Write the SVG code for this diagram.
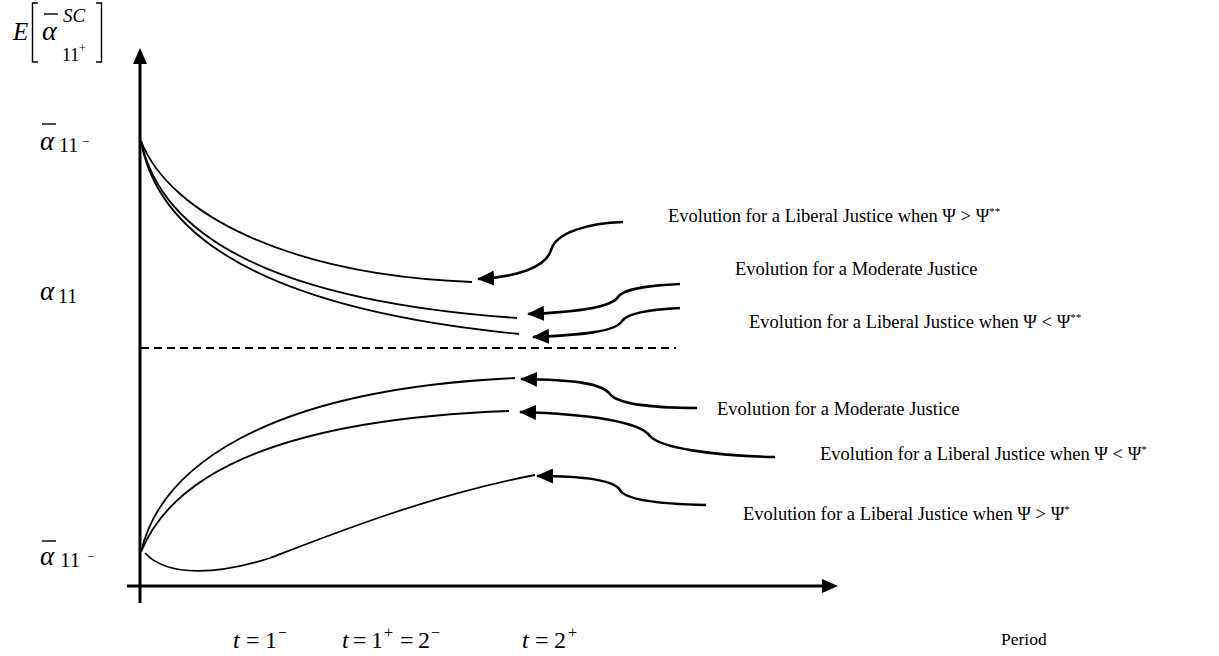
<svg xmlns="http://www.w3.org/2000/svg" width="1219" height="656" viewBox="0 0 1219 656">
<style>
.ax{stroke:#000;stroke-width:3;fill:none}
.cv{stroke:#000;stroke-width:1.8;fill:none}
.ar{stroke:#000;stroke-width:2.6;fill:none;marker-end:url(#ah)}
.lbl{font-family:"Liberation Serif","Times New Roman",serif;font-size:18.5px;fill:#000}
.eq{font-family:"Liberation Serif","Times New Roman",serif;font-size:24px;fill:#000}
.it{font-style:italic}
.bar{stroke:#000;stroke-width:1.4}
</style>
<defs>
<marker id="ah" markerUnits="userSpaceOnUse" markerWidth="17" markerHeight="15" viewBox="0 0 17 15" refX="16" refY="7.5" orient="auto">
<path d="M0,0 L17,7.5 L0,15 Z" fill="#000"/>
</marker>
</defs>
<rect width="1219" height="656" fill="#fff"/>

<g id="axes">
<line class="ax" x1="140" y1="603" x2="140" y2="62"/>
<polygon points="140,48 133,64 147,64" fill="#000"/>
<line class="ax" x1="127" y1="586" x2="824" y2="586"/>
<polygon points="838,586 822,579 822,593" fill="#000"/>
<line x1="141" y1="348" x2="676" y2="348" stroke="#000" stroke-width="2" stroke-dasharray="8,5"/>
</g>

<g id="y-axis-title">
<text class="eq it" x="13" y="40" style="font-size:25px">E</text>
<path class="bar" d="M38,3 L32.5,3 L32.5,62 L38,62" fill="none"/>
<path class="bar" d="M96,3 L101.5,3 L101.5,62 L96,62" fill="none"/>
<line class="bar" x1="44" y1="14" x2="58" y2="14"/>
<text class="eq it" x="42" y="40" style="font-size:28px">α</text>
<text class="eq it" x="63" y="22" style="font-size:19px">SC</text>
<text class="eq" x="62" y="61" style="font-size:18px">11</text>
<text class="eq" x="79" y="52" style="font-size:12px">+</text>
</g>

<g id="y-label-top">
<line class="bar" x1="42" y1="124" x2="56" y2="124"/>
<text class="eq it" x="40" y="150" style="font-size:27px">α</text>
<text class="eq" x="59" y="152" style="font-size:20px">11</text>
<text class="eq" x="82" y="146" style="font-size:13px">−</text>
</g>
<g id="y-label-mid">
<text class="eq it" x="40" y="300" style="font-size:27px">α</text>
<text class="eq" x="58" y="303" style="font-size:20px">11</text>
</g>
<g id="y-label-bottom">
<line class="bar" x1="42" y1="541" x2="56" y2="541"/>
<text class="eq it" x="40" y="565" style="font-size:27px">α</text>
<text class="eq" x="60" y="567" style="font-size:21px">11</text>
<text class="eq" x="87" y="561" style="font-size:13px">−</text>
</g>

<g id="curves">
<path id="c1" class="cv" d="M141,141 C170,215 290,275 472,282"/>
<path id="c2" class="cv" d="M141,141 C160,230 260,300 517,318"/>
<path id="c3" class="cv" d="M141,141 C157,232 255,308 519,334"/>
<path id="c4" class="cv" d="M141,552 C160,470 260,390 515,378"/>
<path id="c5" class="cv" d="M141,552 C170,480 265,420 509,411"/>
<path id="c6" class="cv" d="M145,553 C168,578 220,574 270,558 C330,535 430,495 535,475"/>
</g>

<g id="connectors">
<path class="ar" d="M623,222 C590,223 556,232 551,250 C546,268 515,277 478,279"/>
<path class="ar" d="M680,284 C660,285 625,287 618,297 C612,307 580,312 528,314"/>
<path class="ar" d="M680,308 C660,309 628,312 622,321 C616,332 580,335 533,337"/>
<path class="ar" d="M697,408 C660,408 618,405 610,394 C600,382 570,380 521,379"/>
<path class="ar" d="M775,457 C715,456 660,448 650,436 C640,422 590,414 520,412"/>
<path class="ar" d="M706,505 C660,504 625,500 620,490 C614,480 585,476 537,476"/>
</g>

<g id="label-1"><text class="lbl" x="668" y="222">Evolution for a Liberal Justice when Ψ &gt; Ψ<tspan dy="-7" style="font-size:11px">**</tspan></text></g>
<g id="label-2"><text class="lbl" x="735" y="275">Evolution for a Moderate Justice</text></g>
<g id="label-3"><text class="lbl" x="749" y="328">Evolution for a Liberal Justice when Ψ &lt; Ψ<tspan dy="-7" style="font-size:11px">**</tspan></text></g>
<g id="label-4"><text class="lbl" x="717" y="415">Evolution for a Moderate Justice</text></g>
<g id="label-5"><text class="lbl" x="820" y="460">Evolution for a Liberal Justice when Ψ &lt; Ψ<tspan dy="-7" style="font-size:11px">*</tspan></text></g>
<g id="label-6"><text class="lbl" x="743" y="520">Evolution for a Liberal Justice when Ψ &gt; Ψ<tspan dy="-7" style="font-size:11px">*</tspan></text></g>

<g id="x-labels">
<text class="eq" x="233" y="648"><tspan class="it">t</tspan><tspan x="246">=</tspan><tspan x="265">1</tspan><tspan x="278" y="638" style="font-size:16px">−</tspan></text>
<text class="eq" x="342" y="648"><tspan class="it">t</tspan><tspan x="353">=</tspan><tspan x="371">1</tspan><tspan x="384" y="638" style="font-size:16px">+</tspan><tspan x="400" y="648">=</tspan><tspan x="418">2</tspan><tspan x="431" y="638" style="font-size:16px">−</tspan></text>
<text class="eq" x="522" y="648"><tspan class="it">t</tspan><tspan x="535">=</tspan><tspan x="554">2</tspan><tspan x="568" y="638" style="font-size:16px">+</tspan></text>
<text class="lbl" x="1001" y="645" style="font-size:17.5px">Period</text>
</g>
</svg>
